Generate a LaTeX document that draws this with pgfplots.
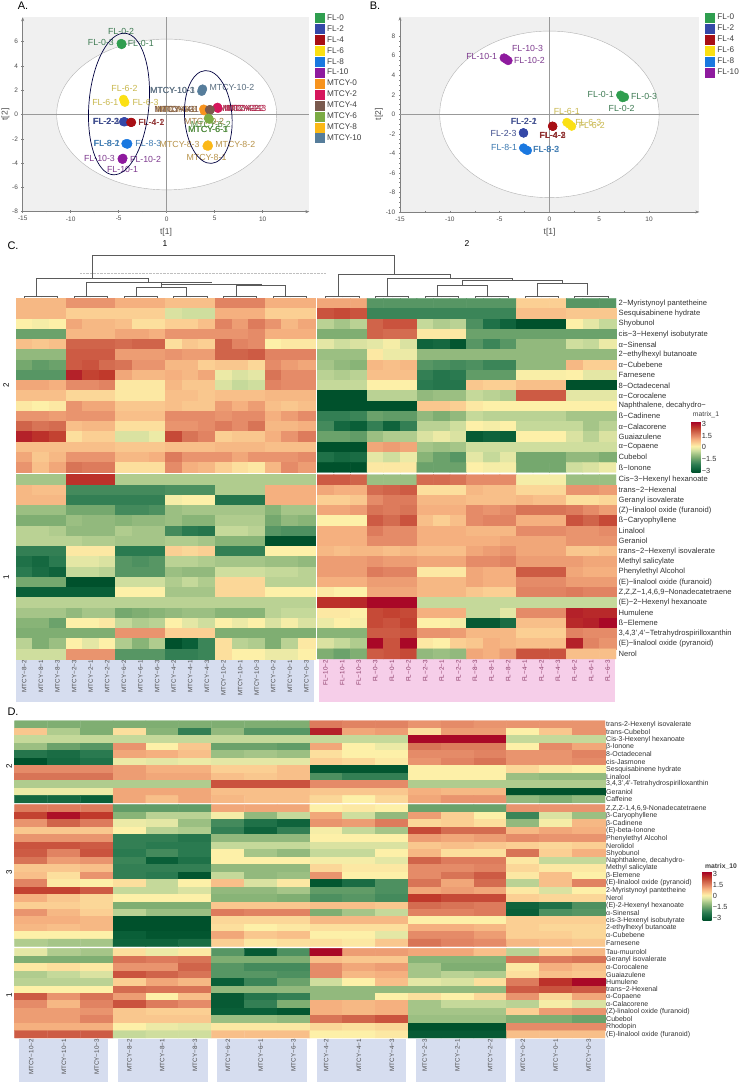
\documentclass[border=0pt]{standalone}
\usepackage{fontspec}
\setmainfont{Liberation Sans}
\usepackage{pgfplots}
\pgfplotsset{compat=1.18}
\usetikzlibrary{arrows.meta}

% series colours, PCA panels
\definecolor{cfa}{HTML}{2F9E4F}
\definecolor{cfb}{HTML}{3548A8}
\definecolor{cfc}{HTML}{A80F15}
\definecolor{cfd}{HTML}{FBE014}
\definecolor{cfe}{HTML}{1A78E0}
\definecolor{cff}{HTML}{8E1A9E}
\definecolor{cma}{HTML}{F7931E}
\definecolor{cmb}{HTML}{D6165C}
\definecolor{cmc}{HTML}{7A5A4E}
\definecolor{cmd}{HTML}{7CAB44}
\definecolor{cme}{HTML}{FBB817}
\definecolor{cmf}{HTML}{567D9B}
% label colours
\definecolor{lfa}{HTML}{3D7A52}
\definecolor{lfb}{HTML}{3B4A8C}
\definecolor{lfc}{HTML}{8C2A2A}
\definecolor{lfd}{HTML}{C9B84E}
\definecolor{lfe}{HTML}{3A78B0}
\definecolor{lff}{HTML}{7E3B8F}
\definecolor{lma}{HTML}{A87A3C}
\definecolor{lmb}{HTML}{B5264F}
\definecolor{lmc}{HTML}{7A5A4E}
\definecolor{lmd}{HTML}{4F8A3C}
\definecolor{lme}{HTML}{B8934A}
\definecolor{lmf}{HTML}{5A6E80}
\definecolor{bandb}{HTML}{D6DDEF}
\definecolor{bandp}{HTML}{F6CEE9}
\definecolor{flcol}{HTML}{8A3A66}
\definecolor{tree}{HTML}{5A5A5A}

\newcommand{\lab}[4]{\node[text=#1,font=\fontsize{8.8}{9}\selectfont,inner sep=0pt] at (axis cs:#2,#3) {#4};}
\newcommand{\fl}[1]{\textcolor{flcol}{#1}}

\pgfplotsset{
  dot/.style={only marks,mark=*,mark size=4.3pt,color=#1,mark options={fill=#1,draw=#1}},
  pca/.style={
    scale only axis, clip=false,
    axis lines=left,
    axis line style={gray,-{Stealth[length=4pt,width=3pt]}},
    tick style={gray,thin},
    major tick length=2.5pt, minor tick length=1.5pt,
    xtick={-15,-10,-5,0,5,10},
    minor x tick num=1, minor y tick num=3,
    axis background/.style={fill=black!6},
    tick label style={font=\fontsize{6.5}{7}\selectfont,text=black!70},
    /pgf/number format/assume math mode=true,
    xtick pos=lower, ytick pos=left,
    xlabel={t[1]}, ylabel={t[2]}, ylabel shift=-4pt,
    xlabel style={font=\fontsize{8.5}{9}\selectfont,text=black!70},
    ylabel style={font=\fontsize{8.5}{9}\selectfont,text=black!70},
    legend cell align=left,
    legend image code/.code={\fill[##1] (0pt,-4.5pt) rectangle (9pt,4.5pt);},
    legend style={draw=none,fill=none,inner sep=0pt,outer sep=0pt,anchor=north west,
      font=\fontsize{8.2}{9}\selectfont,text=black!75,row sep=1.55pt,
      nodes={inner sep=0pt,text height=7pt,text depth=2pt},
      /tikz/every odd column/.append style={column sep=2.7pt}},
  },
  heat/.style={
    scale only axis, clip=false,
    y dir=reverse,
    axis line style={draw=none},
    major tick length=0pt,
    xtick pos=lower, ytick pos=right,
    point meta min=-3, point meta max=3,
    colormap={heat}{rgb255(0pt)=(0,81,44) rgb255(3pt)=(10,95,56) rgb255(9pt)=(42,122,80)
      rgb255(13pt)=(77,144,96) rgb255(18pt)=(127,174,114) rgb255(22pt)=(165,197,136)
      rgb255(25pt)=(197,217,154) rgb255(28pt)=(228,231,165) rgb255(31pt)=(253,240,168)
      rgb255(35pt)=(251,207,147) rgb255(39pt)=(245,176,127) rgb255(43pt)=(229,139,104)
      rgb255(48pt)=(208,100,74) rgb255(53pt)=(192,57,43) rgb255(60pt)=(165,0,38)},
    colorbar,
  },
}

\begin{document}
\begin{tikzpicture}
\useasboundingbox (0pt,0pt) rectangle (740pt,1082pt);

% everything drawn by hand round the axes, in picture pixels, y downward
\begin{scope}[x=1pt,y=-1pt,yshift=1082pt]
  \node[font=\fontsize{11}{12}\selectfont] at (23,6) {A.};
  \node[font=\fontsize{11}{12}\selectfont] at (375,6) {B.};
  \node[font=\fontsize{11}{12}\selectfont] at (13,246) {C.};
  \node[font=\fontsize{11}{12}\selectfont] at (13,712) {D.};
  \node[font=\fontsize{8.5}{9}\selectfont] at (165,244) {1};
  \node[font=\fontsize{8.5}{9}\selectfont] at (467,244) {2};
  \node[font=\fontsize{8}{9}\selectfont,rotate=90] at (6,385) {2};
  \node[font=\fontsize{8}{9}\selectfont,rotate=90] at (6,577) {1};
  \node[font=\fontsize{8}{9}\selectfont,rotate=90] at (9,766) {2};
  \node[font=\fontsize{8}{9}\selectfont,rotate=90] at (9,872) {3};
  \node[font=\fontsize{8}{9}\selectfont,rotate=90] at (9,995) {1};
  \node[font=\fontsize{6.8}{7}\selectfont,text=black!75] at (706,415) {matrix\_1};
  \node[font=\bfseries\fontsize{6.8}{7}\selectfont,text=black!75] at (721,866) {matrix\_10};

  % sample bands under the heatmaps
  \fill[bandb] (16,659.5) rectangle (314,702);
  \fill[bandp] (319,659.5) rectangle (615,702);
  \foreach \a/\b in {19/108.3,118.3/207.7,217.3/306.7,316.7/406,416/505.7,515/605}
    \fill[bandb] (\a,1039) rectangle (\b,1082);

  % dendrogram of panel C
  \draw[black!25,densely dotted] (80,273.3) -- (326,273.3);
  \draw[tree,line width=.6pt]
    (36.7,296) -- (36.7,278.3) -- (148.3,278.3) -- (148.3,282.7)
    (92.7,278.3) -- (92.7,255) -- (394.3,255) -- (394.3,274.3)
    (86,296) -- (86,282.7) -- (211.7,282.7)
    (161,282.7) -- (161,284) -- (261.7,284)
    (161,284) -- (161,287.3)
    (136,296) -- (136,287.3) -- (186,287.3) -- (186,296)
    (236,296) -- (236,285) -- (285.7,285) -- (285.7,296)
    (261.7,284) -- (261.7,285)
    (338.3,296) -- (338.3,274.3) -- (450,274.3) -- (450,278.3)
    (387.7,296) -- (387.7,278.3) -- (512.7,278.3) -- (512.7,280.3)
    (462.7,280.3) -- (562.3,280.3)
    (462.7,280.3) -- (462.7,285)
    (437.3,296) -- (437.3,285) -- (487.3,285) -- (487.3,296)
    (562.3,280.3) -- (562.3,283.3)
    (537.3,297) -- (537.3,283.3) -- (587.3,283.3) -- (587.3,295);
  \foreach \c in {40.9,90.7,140.5,190.3,240.1,289.9,342.2,392,441.8,491.6,541.4,591.2}{
    \draw[tree,line width=.5pt] (\c-16.6,298) -- (\c-16.6,296.6) -- (\c+16.6,296.6) -- (\c+16.6,298);
    \draw[tree,line width=.7pt] (\c,297.5) -- (\c,295.9) -- (\c+10,295.9);
  }

\end{scope}

% ---------- A ----------
\begin{axis}[pca, at={(22.7pt,870.3pt)}, width=286.6pt, height=194.4pt,
    xmin=-15, xmax=14.86, ymin=-8, ymax=8,
    ytick={-8,-6,-4,-2,0,2,4,6},
    legend style={at={(1.02,1.022)}}]
  \fill[white] (axis cs:0,0) ellipse [x radius=110pt,y radius=75.4pt];
  \draw[black!30,thin] (axis cs:0,0) ellipse [x radius=110pt,y radius=75.4pt];
  \draw[black!40,thin] (axis cs:-15,0) -- (axis cs:14.86,0);
  \draw[black!40,thin] (axis cs:0,-8) -- (axis cs:0,8);
  \addplot[dot=cfa] coordinates {(-4.75,5.85) (-4.65,5.8) (-4.7,5.75)};
  \addplot[dot=cfb] coordinates {(-4.5,-.6) (-4.4,-.6) (-4.35,-.6)};
  \addplot[dot=cfc] coordinates {(-3.7,-.65) (-3.75,-.65) (-3.65,-.65)};
  \addplot[dot=cfd] coordinates {(-4.5,1.25) (-4.4,1.05) (-4.35,1)};
  \addplot[dot=cfe] coordinates {(-4.25,-2.4) (-4.05,-2.4) (-4.1,-2.45)};
  \addplot[dot=cff] coordinates {(-4.65,-3.65) (-4.55,-3.6) (-4.6,-3.7)};
  \addplot[dot=cma] coordinates {(3.85,.45) (3.95,.35) (3.9,.3)};
  \addplot[dot=cmb] coordinates {(5.25,.55) (5.3,.6) (5.35,.5)};
  \addplot[dot=cmc] coordinates {(4.45,.4) (4.5,.35) (4.55,.4)};
  \addplot[dot=cmd] coordinates {(4.35,-.3) (4.4,-.35) (4.45,-.4)};
  \addplot[dot=cme] coordinates {(4.2,-2.6) (4.3,-2.5) (4.35,-2.6)};
  \addplot[dot=cmf] coordinates {(3.65,1.9) (3.7,2.05) (3.75,2.1)};
  \legend{FL-0,FL-2,FL-4,FL-6,FL-8,FL-10,MTCY-0,MTCY-2,MTCY-4,MTCY-6,MTCY-8,MTCY-10}
  \lab{lfa}{-4.75}{6.8}{FL-0-2} \lab{lfa}{-6.85}{5.9}{FL-0-3} \lab{lfa}{-2.7}{5.85}{FL-0-1}
  \lab{lfd}{-4.4}{2.1}{FL-6-2} \lab{lfd}{-6.4}{1}{FL-6-1} \lab{lfd}{-2.2}{1}{FL-6-3}
  \lab{lfb}{-6.3}{-.55}{FL-2-3} \lab{lfb}{-6.27}{-.55}{FL-2-1} \lab{lfb}{-6.33}{-.55}{FL-2-2}
  \lab{lfc}{-1.6}{-.63}{FL-4-1} \lab{lfc}{-1.58}{-.63}{FL-4-2}
  \lab{lfe}{-6.25}{-2.4}{FL-8-2} \lab{lfe}{-6.22}{-2.4}{FL-8-1} \lab{lfe}{-1.9}{-2.4}{FL-8-3}
  \lab{lff}{-7}{-3.6}{FL-10-3} \lab{lff}{-2.2}{-3.67}{FL-10-2} \lab{lff}{-4.6}{-4.5}{FL-10-1}
  \lab{lmf}{.6}{1.95}{MTCY-10-3} \lab{lmf}{.62}{1.95}{MTCY-10-1} \lab{lmf}{6.8}{2.2}{MTCY-10-2}
  \lab{lma}{1.1}{.45}{MTCY-0-3} \lab{lmc}{1.3}{.45}{MTCY-4-1} \lab{lma}{.9}{.45}{MTCY-0-1} \lab{lmc}{.8}{.45}{MTCY-4-3}
  \lab{lmc}{7.6}{.5}{MTCY-4-2} \lab{lmb}{7.9}{.5}{MTCY-2-1} \lab{lmb}{8.1}{.5}{MTCY-2-2} \lab{lmb}{8.3}{.52}{MTCY-2-3}
  \lab{lma}{3.9}{-.55}{MTCY-0-2} \lab{lmd}{4.3}{-1.25}{MTCY-6-3} \lab{lmd}{4.33}{-1.22}{MTCY-6-1} \lab{lmd}{4.6}{-.85}{MTCY-6-2}
  \lab{lme}{1.35}{-2.5}{MTCY-8-3} \lab{lme}{7.15}{-2.45}{MTCY-8-2} \lab{lme}{4.15}{-3.5}{MTCY-8-1}
\end{axis}
% hand drawn circles of panel A
\begin{scope}[x=1pt,y=1pt]
  \draw[black!75!blue,line width=.7pt,rotate around={-5:(119,978)}] (119,978) ellipse [x radius=30,y radius=71];
  \draw[black!75!blue,line width=.7pt,rotate around={4:(208.3,965)}] (208.3,965) ellipse [x radius=23.7,y radius=46.5];
\end{scope}

% ---------- B ----------
\begin{axis}[pca, at={(400pt,870pt)}, width=299.3pt, height=195.3pt,
    xmin=-15, xmax=15.05, ymin=-10, ymax=10,
    ytick={-10,-8,-6,-4,-2,0,2,4,6,8},
    legend style={at={(1.02,1.02)}}]
  \fill[white] (axis cs:0,0) ellipse [x radius=109.7pt,y radius=83.3pt];
  \draw[black!30,thin] (axis cs:0,0) ellipse [x radius=109.7pt,y radius=83.3pt];
  \draw[black!40,thin] (axis cs:-15,0) -- (axis cs:15.05,0);
  \draw[black!40,thin] (axis cs:0,-10) -- (axis cs:0,10);
  \addplot[dot=cfa] coordinates {(7.15,1.97) (7.35,1.7) (7.55,1.77)};
  \addplot[dot=cfb] coordinates {(-2.6,-1.9) (-2.62,-1.88) (-2.58,-1.92)};
  \addplot[dot=cfc] coordinates {(.33,-1.22) (.3,-1.2) (.35,-1.24)};
  \addplot[dot=cfd] coordinates {(1.75,-.82) (2,-1) (2.24,-1.22)};
  \addplot[dot=cfe] coordinates {(-2.6,-3.44) (-2.35,-3.64) (-2.2,-3.7)};
  \addplot[dot=cff] coordinates {(-4.55,5.78) (-4.35,5.65) (-4.15,5.5)};
  \legend{FL-0,FL-2,FL-4,FL-6,FL-8,FL-10}
  \lab{lff}{-2.2}{6.7}{FL-10-3} \lab{lff}{-6.8}{5.9}{FL-10-1} \lab{lff}{-2}{5.5}{FL-10-2}
  \lab{lfa}{5.15}{2.07}{FL-0-1} \lab{lfa}{9.5}{1.84}{FL-0-3} \lab{lfa}{7.25}{.65}{FL-0-2}
  \lab{lfd}{1.74}{.3}{FL-6-1} \lab{lfd}{3.9}{-.82}{FL-6-3} \lab{lfd}{4.25}{-1.12}{FL-6-2}
  \lab{lfb}{-2.58}{-.75}{FL-2-2} \lab{lfb}{-2.55}{-.75}{FL-2-1} \lab{lfb}{-4.6}{-1.94}{FL-2-3}
  \lab{lfc}{.33}{-2.2}{FL-4-3} \lab{lfc}{.35}{-2.2}{FL-4-2} \lab{lfc}{.3}{-2.2}{FL-4-1}
  \lab{lfe}{-4.55}{-3.4}{FL-8-1} \lab{lfe}{-.33}{-3.64}{FL-8-3} \lab{lfe}{-.3}{-3.64}{FL-8-2}
\end{axis}

% ---------- C ----------
\begin{axis}[heat, at={(16pt,423pt)}, width=600pt, height=360.7pt,
    xmin=0, xmax=36.145, ymin=0, ymax=35.2,
    xtick={0.5,1.5,...,17.5,18.645,19.645,...,35.645},
    xticklabels={MTCY−8−2,MTCY−8−1,MTCY−8−3,MTCY−2−3,MTCY−2−1,MTCY−2−2,MTCY−6−2,MTCY−6−1,MTCY−6−3,
      MTCY−4−2,MTCY−4−1,MTCY−4−3,MTCY−10−2,MTCY−10−1,MTCY−10−3,MTCY−0−2,MTCY−0−1,MTCY−0−3,
      \fl{FL−10−2},\fl{FL−10−1},\fl{FL−10−3},\fl{FL−0−3},\fl{FL−0−1},\fl{FL−0−2},\fl{FL−2−3},\fl{FL−2−1},\fl{FL−2−2},
      \fl{FL−8−3},\fl{FL−8−1},\fl{FL−8−2},\fl{FL−4−1},\fl{FL−4−2},\fl{FL−4−3},\fl{FL−6−2},\fl{FL−6−1},\fl{FL−6−3}},
    xticklabel style={rotate=90,anchor=east,font=\fontsize{6.3}{7}\selectfont,text=black!70},
    ytick={0.5,1.5,...,16.5,17.7,18.7,...,34.7},
    yticklabels={2−Myristynoyl pantetheine,Sesquisabinene hydrate,Shyobunol,cis−3−Hexenyl isobutyrate,α−Sinensal,
      2−ethylhexyl butanoate,α−Cubebene,Farnesene,8−Octadecenal,α−Corocalene,{Naphthalene, decahydro−},ß−Cadinene,
      α−Calacorene,Guaiazulene,α−Copaene,Cubebol,ß−Ionone,
      Cis−3−Hexenyl hexanoate,trans−2−Hexenal,Geranyl isovalerate,(Z)−linalool oxide (furanoid),ß−Caryophyllene,
      Linalool,Geraniol,trans−2−Hexenyl isovalerate,Methyl salicylate,Phenylethyl Alcohol,(E)−linalool oxide (furanoid),
      {Z,Z,Z−1,4,6,9−Nonadecatetraene},(E)−2−Hexenyl hexanoate,Humulene,ß−Elemene,{3,4,3',4'−Tetrahydrospirilloxanthin},
      (E)−linalool oxide (pyranoid),Nerol},
    yticklabel style={font=\fontsize{7.6}{8}\selectfont,text=black!80,xshift=1.5pt},
    tick label style={inner sep=1pt},
    colorbar style={at={(1.126,.658)},anchor=north west,width=9pt,height=50.6pt,
      axis line style={draw=none},major tick length=0pt,
      ytick={-2.8,-1.4,0,1.3,2.7},yticklabels={−3,−1.5,0,1.5,3},
      yticklabel style={font=\fontsize{7.4}{8}\selectfont,text=black!80}}]
  % MTCY, upper block
  \addplot[matrix plot*,mesh/cols=18,point meta=explicit] table[header=false,row sep=\\,meta index=0,
      x expr={mod(\coordindex,18)+0.5},y expr={floor((\coordindex+0.5)/18)+0.5}] {
  .8\\.8\\.8\\1.2\\1.2\\1.2\\.9\\.9\\.9\\.7\\.7\\.7\\1.4\\1.4\\1.4\\.9\\.9\\.9\\
  .8\\.8\\.8\\.5\\.5\\.5\\.5\\.5\\.5\\-.3\\-.4\\-.4\\.9\\.9\\.9\\.5\\.5\\.5\\
  .1\\0\\.1\\1\\.8\\.8\\.7\\.3\\.3\\.5\\.5\\.7\\1.4\\1.1\\1.5\\1.2\\.8\\1\\
  -1.4\\-1.4\\-1.4\\.8\\.8\\.8\\1\\1\\.9\\1.2\\1.2\\1.2\\1.2\\1.2\\1.3\\.9\\.9\\.9\\
  .7\\.6\\.7\\1.8\\1.8\\1.8\\1.7\\1.8\\1.8\\.3\\.6\\.5\\1.8\\1.4\\1.3\\.1\\.2\\.2\\
  -1\\-1\\-1\\1.9\\1.9\\1.9\\1.1\\1.1\\1.1\\1.2\\1.1\\1.1\\1.8\\1.8\\1.9\\1.4\\1.4\\1.4\\
  -1.3\\-1.5\\-1.4\\1.9\\2\\1.7\\1.6\\1.2\\1.2\\.8\\.8\\.5\\.6\\.6\\.4\\1.3\\1.1\\1\\
  -1.6\\-1.6\\-1.6\\2.6\\2.2\\2.3\\1\\.8\\.8\\.9\\.8\\1\\-.1\\-.3\\-.2\\1.6\\1.3\\1.3\\
  1\\1\\.9\\1.3\\1.3\\1.4\\.2\\.2\\.2\\.8\\.6\\.6\\-.3\\-.5\\-.4\\1.4\\1.3\\1.3\\
  .7\\.7\\.7\\.4\\.4\\.4\\.2\\.2\\.2\\.7\\.7\\.6\\.7\\.7\\.7\\.8\\.8\\.8\\
  .2\\.1\\.2\\1.2\\1\\1\\.6\\.6\\.6\\.7\\.6\\.6\\1.1\\.9\\1.1\\.7\\.6\\.7\\
  1.2\\1.2\\1.1\\1.2\\1.2\\1.2\\.7\\.7\\.7\\1.3\\1.3\\1.3\\1.2\\1.3\\1.3\\.9\\1.1\\1.3\\
  1.8\\1.6\\1.7\\.7\\.8\\.8\\.3\\.3\\.3\\1.2\\1.2\\1.3\\1.5\\1.3\\1.6\\.8\\.8\\.9\\
  2.6\\2.4\\2.2\\.3\\.5\\.5\\-.3\\-.3\\-.1\\2.1\\1.6\\1.4\\.5\\.6\\.6\\.9\\1.2\\1.5\\
  .7\\.7\\.7\\.7\\.7\\.7\\.6\\.6\\.6\\.7\\.7\\.7\\.8\\.8\\.8\\.7\\.7\\.7\\
  1\\.6\\.8\\1.2\\1.2\\1.2\\.8\\.8\\.9\\1.5\\1.2\\1.2\\1.2\\1\\1.2\\1.2\\1.2\\1.3\\
  1.2\\.7\\1\\1.6\\1.5\\1.5\\.3\\.3\\.3\\1.3\\.9\\.8\\.5\\.3\\.2\\.8\\1.3\\1.1\\
  };
  % FL, upper block
  \addplot[matrix plot*,mesh/cols=18,point meta=explicit] table[header=false,row sep=\\,meta index=0,
      x expr={mod(\coordindex,18)+18.645},y expr={floor((\coordindex+0.5)/18)+0.5}] {
  1\\1\\1\\-1.6\\-1.6\\-1.6\\-1.6\\-1.6\\-1.6\\-1.6\\-1.6\\-1.6\\.5\\.5\\.5\\-1.6\\-1.6\\-1.6\\
  2\\2.1\\2\\-1.9\\-1.9\\-1.9\\-1.9\\-1.9\\-1.9\\-1.9\\-1.9\\-1.9\\.7\\.7\\.7\\.6\\.6\\.6\\
  -.6\\-.8\\-.6\\1.8\\2\\2\\-.5\\-.7\\-.6\\-1.7\\-2.3\\-2.6\\-3\\-3\\-3\\.1\\-.2\\-.5\\
  -1.2\\-1.2\\-1.2\\1.8\\1.7\\1.7\\.2\\.2\\.2\\-1.4\\-1.4\\-1.4\\-1.4\\-1.4\\-1.4\\-1.4\\-1.4\\-1.4\\
  -.2\\-.4\\-.3\\-.2\\0\\-.3\\-2.6\\-2.5\\-2.9\\-1.6\\-1.9\\-1.6\\-1\\-1\\-1\\-.4\\-.5\\-.1\\
  -.9\\-.9\\-.9\\.2\\-.1\\-.1\\-1\\-1\\-1\\-1\\-1\\-1\\-1\\-1\\-1\\-1\\-1\\-1\\
  -.8\\-1\\-1.1\\.8\\.7\\.8\\-1.6\\-1.7\\-1.8\\-1.7\\-1.9\\-1.9\\-1\\-1\\-1\\.8\\.5\\.5\\
  -.6\\-.7\\-.6\\.7\\.7\\.7\\-2\\-2.2\\-2.1\\-1.5\\-1.5\\-1.5\\.05\\.05\\.05\\.1\\-.2\\-.2\\
  -.5\\-.5\\-.5\\.1\\.1\\.1\\-2.1\\-2.2\\-2.2\\.6\\.5\\.5\\.7\\.7\\.7\\-3\\-3\\-3\\
  -3\\-3\\-3\\-.6\\-.6\\-.6\\-1\\-.9\\-.9\\-.5\\-.6\\-.7\\1.9\\1.9\\1.9\\-.2\\-.2\\-.2\\
  -3\\-3\\-3\\-3\\-3\\-3\\.6\\.6\\.5\\.2\\.1\\.1\\.1\\.1\\.1\\.1\\.1\\.1\\
  -2\\-2\\-1.9\\-1.4\\-1.5\\-1.5\\-1\\-1.2\\-1\\-.5\\-.6\\-.6\\-.6\\-.6\\-.6\\-.8\\-.8\\-.8\\
  -1.8\\-2.5\\-2.7\\-2\\-2.6\\-2\\-.6\\-.6\\-.4\\.1\\0\\.1\\-.5\\-.5\\-.5\\-.5\\-.8\\-.6\\
  -1.4\\-1.4\\-1.5\\-.9\\-.7\\-.7\\-.3\\-.1\\-.3\\-2.8\\-2.6\\-2.7\\.1\\.1\\.1\\-.3\\-.6\\-.3\\
  -3\\-3\\-3\\1\\1.1\\1\\-.8\\-.9\\-.8\\-.4\\-.4\\-.4\\-.4\\-.4\\-.4\\-.4\\-.4\\-.4\\
  -2.3\\-2.5\\-2.4\\-.2\\-.4\\-.1\\-1.1\\-1.4\\-1.6\\-.2\\-.5\\-.2\\-1.3\\-1.3\\-1.3\\-1\\-1\\-1.2\\
  -3\\-3\\-3\\.2\\.2\\.2\\-1.4\\-1.4\\-1.4\\.1\\0\\0\\-1.3\\-1.3\\-1.3\\-.4\\-.3\\-.1\\
  };
  % MTCY, lower block
  \addplot[matrix plot*,mesh/cols=18,point meta=explicit] table[header=false,row sep=\\,meta index=0,
      x expr={mod(\coordindex,18)+0.5},y expr={floor((\coordindex+0.5)/18)+17.7}] {
  -.8\\-.8\\-.8\\2.4\\2.4\\2.4\\-.7\\-.7\\-.7\\-.7\\-.7\\-.7\\-.7\\-.7\\-.7\\-.7\\-.7\\-.7\\
  .8\\.7\\.7\\-1.8\\-1.8\\-1.8\\-1.8\\-1.8\\-1.8\\-1.7\\-1.7\\-1.7\\-.7\\-.7\\-.7\\.9\\.9\\.9\\
  .8\\.8\\.8\\-2\\-2\\-2\\-2\\-2\\-2\\0\\.1\\.1\\-2.2\\-2.2\\-2.2\\.9\\.9\\.9\\
  -.9\\-.9\\-.9\\-1.3\\-1.3\\-1.3\\-1.8\\-1.8\\-1.7\\-.9\\-.8\\-.8\\-.8\\-.8\\-.8\\-1.1\\-.8\\-.8\\
  -1.2\\-1.2\\-1.2\\-.9\\-1\\-1\\-1.1\\-1\\-1\\-.9\\-1.1\\-1.1\\-.7\\-.7\\-.7\\-1.3\\-1\\-1.1\\
  -.6\\-.6\\-.7\\-1\\-1\\-1\\-.7\\-.8\\-.8\\-1.8\\-2.1\\-2.2\\-.5\\-.5\\-.6\\-1.6\\-1.7\\-1.7\\
  -.6\\-.6\\-.6\\-.6\\-.7\\-.7\\-.8\\-.8\\-.8\\-.7\\-.7\\-.8\\-1.1\\-1.1\\-1.1\\-3\\-3\\-3\\
  -2\\-2\\-2\\.2\\.2\\.2\\-2.1\\-2.1\\-2.1\\.5\\.4\\.5\\-2\\-2\\-2\\.1\\.1\\.1\\
  -2.3\\-2.5\\-2.1\\-.2\\-.2\\-.3\\-1.6\\-1.7\\-1.6\\-.6\\-.6\\-.7\\-.8\\-.8\\-.8\\-.9\\-.9\\-1\\
  -2.1\\-2.4\\-2.6\\-.5\\-.5\\-.6\\-1.6\\-1.6\\-1.6\\-.9\\-1\\-1\\-.4\\-.4\\-.4\\-.5\\-.5\\-.6\\
  -1.3\\-1.3\\-1.3\\-3\\-3\\-3\\-.4\\-.4\\-.4\\-.7\\-.5\\-.7\\.4\\.4\\.4\\-.6\\-.6\\-.6\\
  -2.7\\-2.7\\-2.7\\-2.7\\-2.7\\-2.7\\.1\\.1\\.1\\-.8\\-.8\\-.8\\.4\\.4\\.4\\.1\\.1\\.1\\
  -.6\\-.6\\-.6\\-.6\\-.6\\-.6\\-.6\\-.6\\-.6\\-.6\\-.6\\-.6\\-.6\\-.6\\-.6\\-.6\\-.6\\-.6\\
  -.8\\-.8\\-.8\\-1\\-.8\\-.8\\-1.3\\-1.2\\-1.1\\-1\\-.9\\-.9\\-1.1\\-1.1\\-1.1\\-.6\\-.5\\-.5\\
  -1.1\\-1.1\\-1.4\\.1\\.1\\.2\\-.5\\-.7\\-.6\\.1\\-.2\\-.4\\.1\\-.1\\.1\\-.3\\0\\-.3\\
  -1.2\\-1.2\\-1.2\\-1.2\\-1.2\\-1.2\\1.2\\1.2\\1.2\\.5\\.5\\.5\\-1.2\\-1.2\\-1.2\\-1.2\\-1.2\\-1.2\\
  -.6\\-1.2\\-.9\\.1\\-.2\\.1\\-.7\\-1.1\\-.7\\-3\\-2.7\\-1.9\\.3\\-.6\\-.7\\-1.2\\-.6\\.2\\
  -.4\\-.4\\-.4\\1.2\\1.2\\1.2\\-1.6\\-1.6\\-1.6\\-2\\-2\\-1.9\\.3\\.1\\.1\\-.1\\-.1\\.1\\
  };
  % FL, lower block
  \addplot[matrix plot*,mesh/cols=18,point meta=explicit] table[header=false,row sep=\\,meta index=0,
      x expr={mod(\coordindex,18)+18.645},y expr={floor((\coordindex+0.5)/18)+17.7}] {
  1.9\\1.9\\1.8\\-.9\\-.9\\-.9\\1.7\\1.7\\1.6\\1.3\\1.3\\1.3\\0\\0\\0\\-.9\\-.9\\-.9\\
  1\\.9\\.9\\1.7\\1.8\\1.9\\.3\\.3\\.3\\.8\\.7\\.7\\.4\\.4\\.4\\1.2\\1.2\\1.1\\
  .5\\.5\\.6\\1.3\\1.5\\1.5\\.8\\.8\\.8\\.7\\.7\\.7\\.8\\.7\\.7\\.3\\.3\\.4\\
  1\\1\\1.1\\1.6\\1.5\\1.6\\.9\\.9\\.9\\1.3\\1.2\\1.3\\1.6\\1.6\\1.6\\1.5\\1.3\\1.1\\
  .1\\.1\\.1\\1.9\\1.7\\2\\.7\\.5\\.7\\1.3\\1.4\\1.4\\.9\\.9\\.9\\2\\1.8\\2.1\\
  .9\\.9\\.9\\1.5\\1.3\\1.3\\.9\\.9\\.9\\.8\\.8\\.8\\1.3\\1.3\\1.3\\1.2\\1.2\\1.3\\
  .9\\.9\\.9\\1.3\\1.3\\1.3\\.9\\.9\\.9\\.9\\.9\\1\\1\\1\\1\\1.2\\1.2\\1.2\\
  .8\\.7\\.8\\.8\\.7\\.8\\.7\\.7\\.7\\1\\1.1\\1.2\\1\\1\\1\\.6\\.6\\.7\\
  1.1\\1.1\\1.1\\1.2\\1.1\\1.1\\1\\1\\1\\1.3\\1.3\\1.4\\1.1\\1.1\\1.1\\1.1\\1\\1\\
  1.1\\1.1\\1.1\\1.5\\1.4\\1.4\\.2\\.2\\.2\\1\\.9\\.9\\1.9\\1.9\\1.9\\1\\.9\\.9\\
  .9\\.9\\.9\\1.1\\1.1\\1.1\\.8\\.8\\.8\\1\\.9\\.9\\1.3\\1.3\\1.3\\1.1\\1.1\\1.1\\
  .2\\.1\\.1\\1\\1\\1\\.8\\.8\\.8\\.6\\.5\\.5\\1.4\\1.4\\1.4\\1.5\\1.4\\1.4\\
  2.4\\2.4\\2.5\\2.9\\2.9\\2.9\\-.5\\-.5\\-.5\\-.5\\-.5\\-.5\\-.5\\-.5\\-.5\\-.5\\-.5\\-.5\\
  .2\\.2\\.1\\2.1\\2.2\\2.1\\.9\\.9\\.9\\-.5\\-.5\\-.2\\1.3\\1.3\\1.3\\2.6\\2.5\\2.5\\
  -.1\\.1\\0\\2.1\\2\\2.2\\.1\\.1\\0\\-2.8\\-2.8\\-2.4\\.7\\.7\\.7\\2.5\\2.6\\2.9\\
  -1.1\\-1.1\\-1.1\\1.9\\1.9\\2\\1.2\\1.2\\1.1\\.8\\.8\\.8\\.5\\.5\\.5\\1.4\\1.3\\1.3\\
  -.3\\-.5\\-.7\\2.9\\2\\2.9\\.2\\.1\\.5\\.6\\.9\\.8\\.7\\.7\\.7\\2.6\\1.4\\1.2\\
  -1.2\\-1.4\\-1.2\\1.9\\2\\2.1\\-1\\-.9\\-1\\1\\.9\\1.1\\2\\2\\2\\.7\\.7\\.7\\
  };
\end{axis}

% ---------- D ----------
\begin{axis}[heat, at={(14.7pt,44pt)}, width=590.3pt, height=317.3pt,
    xmin=0, xmax=18, ymin=0, ymax=42.5,
    xtick={0.5,1.5,...,17.5},
    xticklabels={MTCY−10−2,MTCY−10−1,MTCY−10−3,MTCY−8−2,MTCY−8−1,MTCY−8−3,MTCY−6−2,MTCY−6−1,MTCY−6−3,
      MTCY−4−2,MTCY−4−1,MTCY−4−3,MTCY−2−3,MTCY−2−1,MTCY−2−2,MTCY−0−2,MTCY−0−1,MTCY−0−3},
    xticklabel style={rotate=90,anchor=east,font=\fontsize{6.3}{7}\selectfont,text=black!70},
    ytick={0.5,1.5,...,10.5,11.75,12.75,...,29.75,31,32,...,42},
    yticklabels={trans-2-Hexenyl isovalerate,trans-Cubebol,Cis-3-Hexenyl hexanoate,β-Ionone,8-Octadecenal,cis-Jasmone,
      Sesquisabinene hydrate,Linalool,{3,4,3',4'-Tetrahydrospirilloxanthin},Geraniol,Caffeine,
      {Z,Z,Z-1,4,6,9-Nonadecatetraene},β-Caryophyllene,β-Cadinene,(E)-beta-Ionone,Phenylethyl Alcohol,Nerolidol,Shyobunol,
      {Naphthalene, decahydro-},Methyl salicylate,β-Elemene,(E)-linalool oxide (pyranoid),2-Myristynoyl pantetheine,Nerol,
      (E)-2-Hexenyl hexanoate,α-Sinensal,cis-3-Hexenyl isobutyrate,2-ethylhexyl butanoate,α-Cubebene,Farnesene,
      Tau-muurolol,Geranyl isovalerate,α-Corocalene,Guaiazulene,Humulene,trans−2-Hexenal,α-Copaene,α-Calacorene,
      (Z)-linalool oxide (furanoid),Cubebol,Rhodopin,(E)-linalool oxide (furanoid)},
    yticklabel style={font=\fontsize{7}{7.5}\selectfont,text=black!80},
    tick label style={inner sep=1pt},
    colorbar style={at={(1.1655,.524)},anchor=north west,width=9pt,height=48.3pt,
      axis line style={draw=none},major tick length=0pt,
      ytick={-2.8,-1.4,0,1.3,2.7},yticklabels={−3,−1.5,0,1.5,3},
      yticklabel style={font=\fontsize{7.4}{8}\selectfont,text=black!80}}]
  % first block
  \addplot[matrix plot*,mesh/cols=18,point meta=explicit] table[header=false,row sep=\\,meta index=0,
      x expr={mod(\coordindex,18)+0.5},y expr={floor((\coordindex+0.5)/18)+0.5}] {
  -1.2\\-1.2\\-1.2\\-1.2\\-1.2\\-1.2\\-1.2\\-1.2\\-1.2\\1.5\\1.4\\1.4\\1.2\\1.3\\1.2\\1.2\\1.2\\1.2\\
  .6\\-.7\\-1.2\\.3\\-1.1\\-2\\-1\\-1.6\\-1.6\\2.6\\1\\1.1\\.3\\1.1\\1.1\\.1\\.6\\1.2\\
  -.5\\-.5\\-.5\\-.5\\-.5\\-.5\\-.5\\-.5\\-.5\\-.5\\-.5\\-.5\\2.9\\2.9\\2.9\\-.5\\-.5\\-.5\\
  -.9\\-1.4\\-1.6\\1.2\\.1\\.6\\-1.4\\-1.4\\-1.5\\1\\.1\\-.1\\1.6\\1.5\\1.5\\.1\\1.3\\1\\
  -2.2\\-2.4\\-2.1\\1\\.9\\.7\\-.9\\-.8\\-.9\\.3\\.1\\.1\\1.3\\1.3\\1.4\\1.2\\1.2\\1.4\\
  -3\\-2.5\\-2.3\\-.1\\-.2\\-.1\\-.2\\-.2\\-.2\\.5\\.4\\.2\\1.2\\1.4\\1.6\\1.2\\1.2\\1.3\\
  1.3\\1.3\\1.3\\1.1\\.9\\.9\\.5\\.5\\.7\\-2.9\\-2.9\\-2.9\\.1\\.1\\.1\\.4\\.2\\.1\\
  1.6\\1.6\\1.6\\1.1\\1\\1\\.7\\.6\\.7\\-1.7\\-2\\-2\\.1\\.1\\.1\\-.9\\-1\\-1\\
  -.7\\-.7\\-.7\\-.7\\-.7\\-.7\\2\\2\\2\\1.3\\1.3\\1.3\\-.7\\-.7\\-.7\\-.7\\-.7\\-.7\\
  -.1\\-.1\\-.1\\1\\1\\1\\.7\\.7\\.7\\.6\\.6\\.6\\.9\\.8\\.8\\-3\\-3\\-3\\
  -2.5\\-2.5\\-2.7\\1\\.7\\1\\.8\\.7\\.7\\.4\\.1\\.4\\1\\1.2\\1.2\\-1\\-1.2\\-1\\
  };
  % second block
  \addplot[matrix plot*,mesh/cols=18,point meta=explicit] table[header=false,row sep=\\,meta index=0,
      x expr={mod(\coordindex,18)+0.5},y expr={floor((\coordindex+0.5)/18)+11.75}] {
  1.5\\1.5\\1.5\\-1.5\\-1.5\\-1.5\\1\\1\\1\\.1\\.2\\.1\\-1.4\\-1.4\\-1.4\\1.2\\1.2\\1.2\\
  2.2\\2.8\\2.3\\-1.1\\-.6\\-.6\\0\\-1\\-.5\\1\\-.4\\-1\\1.1\\.5\\.1\\-1.9\\-.3\\-.9\\
  1.2\\1.8\\1.5\\-.1\\-.2\\-.9\\-1.8\\-2.3\\-2.6\\1.2\\1.1\\1.5\\.4\\.5\\.3\\-1\\0\\.8\\
  .6\\.6\\.6\\.1\\-.6\\-.7\\-2\\-2.6\\-2\\0\\-.5\\-.8\\2.1\\1.7\\1.7\\.8\\1\\.9\\
  1.2\\1.2\\1.2\\-2\\-2\\-2.2\\-1\\-1\\-1\\.1\\.1\\.1\\1.1\\1\\1.1\\1.3\\1.2\\1.2\\
  2\\2\\1.9\\-2\\-2.1\\-2.1\\-.5\\-.5\\-.5\\-.3\\-.3\\-.3\\.6\\.7\\.6\\.5\\.4\\.5\\
  1.9\\1.4\\2\\-2.1\\-1.8\\-2.1\\.1\\-.8\\-1\\-.5\\-.5\\.1\\.8\\.3\\.3\\1.6\\.5\\.9\\
  1.6\\1.1\\1.2\\-1.9\\-2.7\\-2.3\\.1\\.1\\.1\\0\\0\\-.2\\1.8\\1.5\\1.5\\.2\\-.5\\-.5\\
  .6\\.6\\.7\\-2\\-2\\-2\\-1\\-1\\-1\\.4\\.2\\.2\\1.3\\1.3\\1.4\\.4\\.2\\.2\\
  .7\\.3\\1.2\\-2\\-2.1\\-2.9\\-.5\\-1\\-.9\\1.2\\.1\\.1\\1.3\\1.6\\1.9\\.2\\.7\\.1\\
  1.4\\.2\\.1\\.3\\-.5\\.1\\.7\\-.3\\.2\\-2.9\\-2.4\\-1.7\\1.6\\1\\1.7\\-.6\\.7\\1.4\\
  2.2\\2.2\\1.9\\-.5\\-.5\\-.3\\-1\\-1\\-.8\\-1.5\\-1.5\\-1.7\\1\\1.1\\1\\.2\\-.3\\.1\\
  .9\\.6\\.4\\.1\\.1\\.1\\-1.1\\-1.1\\-1.2\\-1.7\\-1.6\\-1.8\\2.3\\2.1\\2.1\\.5\\.4\\.4\\
  .5\\.5\\.4\\-1.2\\-1.2\\-1.2\\.6\\.6\\.6\\.7\\.7\\.6\\1.7\\1.6\\1.5\\-2.6\\-2.3\\-1.7\\
  1.2\\.8\\.5\\-.6\\-.9\\-.9\\1.5\\1.4\\1.4\\-1.2\\-.8\\-.5\\1.4\\1.4\\1.5\\-2.7\\-1.7\\-1.6\\
  .9\\.9\\.8\\-3\\-3\\-3\\.4\\.4\\.4\\.8\\.8\\.8\\.1\\.1\\.1\\.5\\.5\\.5\\
  .8\\.7\\.8\\-3\\-3\\-3\\.3\\.1\\.2\\.3\\.3\\.3\\.9\\.9\\.8\\.5\\.4\\.4\\
  .1\\.1\\.1\\-2.7\\-2.9\\-2.9\\1\\.6\\.7\\.1\\.1\\-.2\\1.3\\1.3\\1.1\\.5\\.5\\.4\\
  -.7\\-.8\\-.8\\-2.6\\-2.6\\-2.4\\.5\\.2\\.3\\.3\\.2\\.6\\1.6\\1.4\\1.3\\.8\\.7\\.6\\
  };
  % third block
  \addplot[matrix plot*,mesh/cols=18,point meta=explicit] table[header=false,row sep=\\,meta index=0,
      x expr={mod(\coordindex,18)+0.5},y expr={floor((\coordindex+0.5)/18)+31}] {
  -.2\\-.7\\-.8\\.3\\-.1\\.2\\-1.6\\-2.8\\-1.7\\2.9\\1.1\\1.1\\1\\1\\.7\\-.6\\.5\\.8\\
  -1.2\\-1.2\\-1.2\\1.6\\1.5\\1.6\\-1.2\\-1.2\\-1.2\\.7\\.6\\.6\\-1.1\\-1.1\\-1.1\\1.6\\1.5\\1.6\\
  .2\\.3\\.2\\1.2\\1.2\\1.8\\-1.6\\-1.8\\-1.8\\1.3\\1\\1.1\\-.8\\-1.2\\-1.2\\.2\\.9\\.7\\
  -.7\\-.5\\-.3\\2\\1.8\\1.6\\-1.6\\-1.6\\-1.7\\1.3\\.8\\.9\\-.8\\-.6\\-.7\\.3\\.7\\.6\\
  -.6\\-.6\\-.6\\.5\\1\\.8\\-2.7\\-1.9\\-1.4\\-.4\\.1\\.7\\-.2\\-.3\\.3\\1.5\\2.4\\2.9\\
  .1\\.1\\.1\\1.7\\1.6\\1.6\\-1\\-1\\-1\\-1\\-1\\-1\\-1\\-1\\-1\\1.9\\2\\1.9\\
  1.9\\1.2\\1.6\\1.1\\.1\\.7\\-2.8\\-2.2\\-2\\-1\\-1\\.1\\.3\\.1\\.4\\1.2\\.4\\1\\
  1.3\\.8\\1.4\\2\\1.5\\1.3\\-2.8\\-2\\-1.2\\.9\\.8\\.9\\-.8\\-.5\\-.5\\-.6\\0\\-.3\\
  1.1\\1.1\\1.2\\.6\\.5\\.5\\-2.7\\-2.7\\-2.9\\.9\\.8\\.9\\-.8\\-.8\\-.8\\.5\\1.1\\1.2\\
  1.1\\1.1\\1.4\\.6\\.6\\.6\\-.9\\-.9\\-1\\1.6\\1.8\\2\\-.9\\-.9\\-.9\\-1.2\\-1.2\\-1.4\\
  .9\\.9\\.9\\.1\\-.1\\-.2\\.2\\.2\\.2\\.4\\.3\\.4\\-3\\-3\\-3\\1.3\\1.3\\1.3\\
  1.9\\1.9\\1.9\\-.5\\-.4\\-.4\\.7\\.7\\.7\\.1\\.1\\.2\\-2.8\\-2.8\\-2.8\\.7\\.7\\.7\\
  };
\end{axis}
\end{tikzpicture}
\end{document}
